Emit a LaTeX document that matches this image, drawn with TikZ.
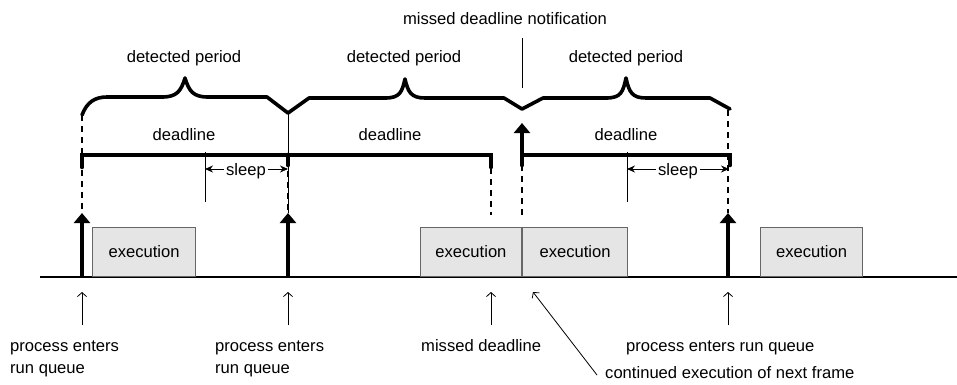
\documentclass[tikz,border=0pt]{standalone}
\usepackage{fontspec}
\setmainfont{Liberation Sans}
\usetikzlibrary{arrows.meta}

\begin{document}
\begin{tikzpicture}[x=1pt,y=-1pt,
  lbl/.style={font=\fontsize{16.6}{22}\selectfont, inner sep=0pt, anchor=base},
  lblw/.style={lbl, anchor=base west, align=left},
  execbox/.style={draw=black!60, fill=black!10, line width=1.1pt, minimum height=49pt,
    inner sep=0pt, font=\fontsize{16.6}{20}\selectfont},
  brace/.style={line width=3.6pt, line join=round, line cap=round},
  bar/.style={line width=4.6pt, line cap=round},
  dashv/.style={line width=1.3pt, dash pattern=on 6pt off 5pt},
  thinv/.style={line width=0.9pt},
  enter/.style={line width=3.4pt, -{Triangle[length=10pt,width=16pt]}},
  pointer/.style={line width=0.8pt, -{Straight Barb[length=4pt,width=9pt]}},
  gap/.style={line width=0.9pt, -{Stealth[length=8pt,width=7pt]}},
]
\useasboundingbox (0,0) rectangle (957,384);

% time axis
\coordinate (axL) at (40,277);
\coordinate (axR) at (957,277);
\draw[line width=1.3pt] (axL) -- (axR);

% event points on the axis
\coordinate (e1) at (82,277);
\coordinate (e2) at (288,277);
\coordinate (md) at (491,277);
\coordinate (nt) at (522,277);
\coordinate (e3) at (728,277);

% execution slices
\node[execbox, minimum width=103pt, anchor=south west] (x1) at (92,277) {execution};
\node[execbox, minimum width=101pt, anchor=south east] (x2) at (522,277) {execution};
\node[execbox, minimum width=105pt, anchor=south west] (x3) at (522,277) {execution};
\node[execbox, minimum width=102pt, anchor=south west] (x4) at (760,277) {execution};

% dashed guides
\draw[dashv] (82,115) -- (82,213);
\draw[thinv] (288,113) -- (288,213);
\draw[dashv] (288,160) -- (288,213);
\draw[dashv] (491,168) -- (491,215);
\draw[dashv] (522,165) -- (522,215);
\draw[dashv] (728,110) -- (728,213);

% sleep bounds
\draw[thinv] (205,152) -- (205,202);
\draw[thinv] (627,152) -- (627,202);

% missed deadline notification marker
\coordinate (ntop) at (522,38);
\coordinate (nbot) at (522,88);
\draw[thinv] (ntop) -- (nbot);
\node[lbl] (ntxt) at (505,24) {missed deadline notification};

% process enters run queue arrows
\coordinate (e1t) at (82,213);
\coordinate (e2t) at (288,213);
\coordinate (e3t) at (728,213);
\draw[enter] (e1) -- (e1t);
\draw[enter] (e2) -- (e2t);
\draw[enter] (e3) -- (e3t);
\coordinate (ntb) at (522,165);
\coordinate (ntt) at (522,123);
\draw[enter] (ntb) -- (ntt);

% deadline bars
\draw[bar] (82,167) -- (82,155) -- (491,155) -- (491,167);
\draw[bar] (288,155) -- (288,165);
\draw[bar] (522,165) -- (522,155) -- (730,155) -- (730,165);
\node[lbl] (d1) at (184,140) {deadline};
\node[lbl] (d2) at (390,140) {deadline};
\node[lbl] (d3) at (626,140) {deadline};

% sleep intervals
\node[lbl, fill=white, inner xsep=2pt] (s1) at (246,175) {sleep};
\node[lbl, fill=white, inner xsep=2pt] (s2) at (678,175) {sleep};
\coordinate (s1a) at (205,169);
\coordinate (s1b) at (288,169);
\coordinate (s2a) at (627,169);
\coordinate (s2b) at (729,169);
\draw[gap] (s1.west |- s1a) -- (s1a);
\draw[gap] (s1.east |- s1b) -- (s1b);
\draw[gap] (s2.west |- s2a) -- (s2a);
\draw[gap] (s2.east |- s2b) -- (s2b);

% detected period braces
\draw[brace] (82,115) .. controls (87,102) and (95,97) .. (107,97) -- (162,97)
  .. controls (177,97) and (181,91) .. (185,78)
  .. controls (189,91) and (193,97) .. (208,97) -- (267,97) -- (288,113);
\draw[brace] (288,113) -- (309,98) -- (385,98)
  .. controls (400,98) and (402,92) .. (405,79)
  .. controls (408,92) and (411,98) .. (425,98) -- (504,98) -- (522,109);
\draw[brace] (522,109) -- (543,98) -- (606,98)
  .. controls (621,98) and (623,92) .. (626,78)
  .. controls (629,92) and (632,98) .. (646,98) -- (710,98) -- (730,109);
\node[lbl] (p1) at (184,62) {detected period};
\node[lbl] (p2) at (404,62) {detected period};
\node[lbl] (p3) at (626,62) {detected period};

% annotations below the axis
\coordinate (a1) at (82,325);   \coordinate (a1t) at (82,292);
\coordinate (a2) at (288,325);  \coordinate (a2t) at (288,292);
\coordinate (a3) at (491,325);  \coordinate (a3t) at (491,292);
\coordinate (a4) at (728,325);  \coordinate (a4t) at (728,292);
\coordinate (a5) at (597,375);  \coordinate (a5t) at (533,292);
\draw[pointer] (a1) -- (a1t);
\draw[pointer] (a2) -- (a2t);
\draw[pointer] (a3) -- (a3t);
\draw[pointer] (a4) -- (a4t);
\draw[pointer] (a5) -- (a5t);

% two-line labels: the base anchor sits on the last line
\node[lblw] (t1) at (10,373) {process enters\\run queue};
\node[lblw] (t2) at (215,373) {process enters\\run queue};
\node[lblw] (t3) at (421,351) {missed deadline};
\node[lblw] (t4) at (626,351) {process enters run queue};
\node[lblw] (t5) at (605,378) {continued execution of next frame};
\end{tikzpicture}
\end{document}
